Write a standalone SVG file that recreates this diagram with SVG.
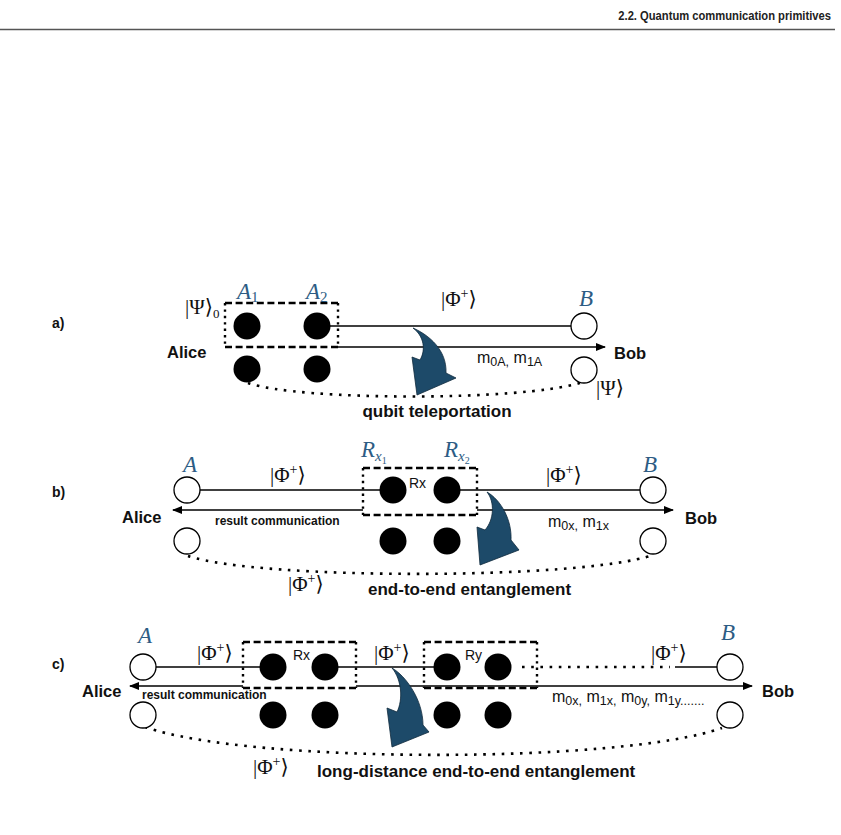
<svg xmlns="http://www.w3.org/2000/svg" width="841" height="835" viewBox="0 0 841 835">
<defs>
<style>
.hdr{font-family:"Liberation Sans",Arial,sans-serif;font-weight:bold;font-size:13.5px;fill:#222}
.b{font-family:"Liberation Sans",Arial,sans-serif;font-weight:bold;fill:#111}
.lab{font-size:14px}
.who{font-size:16.5px}
.cap{font-size:17px}
.rc{font-size:12px}
.r{font-family:"Liberation Sans",Arial,sans-serif;fill:#111}
.m{font-family:"Liberation Serif","DejaVu Serif",serif;font-size:21px;fill:#111}
.bl{font-family:"Liberation Serif","DejaVu Serif",serif;font-style:italic;font-size:23px;fill:#2d5c84}
.ln{stroke:#000;stroke-width:1.6;fill:none}
.dot{stroke:#000;stroke-width:2.6;fill:none;stroke-dasharray:2.6 6.6}
.dash{stroke:#000;stroke-width:2.4;fill:none;stroke-dasharray:7 3.6}
.vdot{stroke:#000;stroke-width:2.4;fill:none;stroke-dasharray:2.4 4}
.open{fill:#fff;stroke:#000;stroke-width:1.3}
.full{fill:#000}
.big{fill:#1d4a69;stroke:#0f2a3c;stroke-width:0.8}
</style>
<marker id="ah" viewBox="0 0 10 10" refX="9" refY="5" markerWidth="10" markerHeight="10" markerUnits="userSpaceOnUse" orient="auto">
<path d="M0,1 L10,5 L0,9 Z" fill="#000"/>
</marker>
</defs>
<rect width="841" height="835" fill="#fff"/>

<g id="header">
<text class="hdr" transform="translate(831,20) scale(0.83,1)" x="0" y="0" text-anchor="end">2.2. Quantum communication primitives</text>
<line x1="0" y1="29.5" x2="835" y2="29.5" stroke="#555" stroke-width="1.4"/>
</g>

<!-- ===== connectors ===== -->
<g id="connectors">
<!-- a -->
<line class="ln" x1="330" y1="326" x2="571" y2="326"/>
<line class="ln" x1="338" y1="347" x2="605" y2="347" marker-end="url(#ah)"/>
<path class="dot" d="M248,383 C300,401 520,401 580,383"/>
<!-- b -->
<line class="ln" x1="200" y1="490" x2="380" y2="490"/>
<line class="ln" x1="460" y1="490" x2="640" y2="490"/>
<line class="ln" x1="363" y1="510" x2="173" y2="510" marker-end="url(#ah)"/>
<line class="ln" x1="477" y1="510" x2="673" y2="510" marker-end="url(#ah)"/>
<path class="dot" d="M188,556 C260,580 580,580 653,555"/>
<!-- c -->
<line class="ln" x1="156" y1="667" x2="260" y2="667"/>
<line class="ln" x1="338" y1="667" x2="434" y2="667"/>
<path class="dot" d="M522,667 L670,667"/>
<line class="ln" x1="675" y1="667" x2="717" y2="667"/>
<line class="ln" x1="243" y1="686" x2="130" y2="686" marker-end="url(#ah)"/>
<line class="ln" x1="356" y1="686" x2="752" y2="686" marker-end="url(#ah)"/>
<path class="dot" d="M145,727 C250,764 620,764 722,728"/>
</g>

<!-- ===== panel a ===== -->
<g id="a-label"><text class="b lab" x="52" y="328">a)</text></g>
<g id="a-alice"><text class="b who" x="167" y="358">Alice</text></g>
<g id="a-box">
<path class="dash" d="M225,303 H338 M225,347 H338"/>
<path class="vdot" d="M225,303 V347 M338,303 V347"/>
</g>
<g id="a-psi0"><text class="m" x="185" y="314">|Ψ⟩<tspan font-size="13" dy="4">0</tspan></text></g>
<g id="a-A1"><circle class="full" cx="247" cy="326" r="13.5"/><text class="bl" x="237" y="299">A<tspan font-style="normal" font-size="15" dy="3">1</tspan></text></g>
<g id="a-A2"><circle class="full" cx="317" cy="326" r="13.5"/><text class="bl" x="306" y="299">A<tspan font-style="normal" font-size="15" dy="3">2</tspan></text></g>
<g id="a-A1b"><circle class="full" cx="247" cy="369" r="13.5"/></g>
<g id="a-A2b"><circle class="full" cx="317" cy="369" r="13.5"/></g>
<g id="a-phi"><text class="m" x="441" y="306">|Φ<tspan font-size="14" dy="-8">+</tspan><tspan dy="8">⟩</tspan></text></g>
<g id="a-B"><circle class="open" cx="584" cy="326" r="13"/><text class="bl" x="579" y="306">B</text></g>
<g id="a-Bb"><circle class="open" cx="584" cy="370" r="13"/></g>
<g id="a-psi"><text class="m" x="596" y="395">|Ψ⟩</text></g>
<g id="a-bob"><text class="b who" x="614" y="359">Bob</text></g>
<g id="a-m"><text class="r" x="477" y="363" font-size="16">m<tspan font-size="12.5" dy="3">0A,</tspan><tspan dy="-3"> m</tspan><tspan font-size="12.5" dy="3">1A</tspan></text></g>
<g id="a-arrow"><path class="big" d="M413,328 C429,335 447,350 446,373 L456,378 L417,395 L412,357 L420,360 C426,350 424,336 413,328 Z"/></g>
<g id="a-cap"><text class="b cap" x="437" y="417" text-anchor="middle">qubit teleportation</text></g>

<!-- ===== panel b ===== -->
<g id="b-label"><text class="b lab" x="52" y="497">b)</text></g>
<g id="b-alice"><text class="b who" x="122" y="523">Alice</text></g>
<g id="b-A"><circle class="open" cx="187" cy="490" r="13"/><text class="bl" x="183" y="472">A</text></g>
<g id="b-Ab"><circle class="open" cx="187" cy="541" r="13"/></g>
<g id="b-phi1"><text class="m" x="270" y="482">|Φ<tspan font-size="14" dy="-8">+</tspan><tspan dy="8">⟩</tspan></text></g>
<g id="b-rc"><text class="b rc" x="215" y="525">result communication</text></g>
<g id="b-box">
<path class="dash" d="M363,468 H477 M363,515 H477"/>
<path class="vdot" d="M363,468 V515 M477,468 V515"/>
</g>
<g id="b-Rx1"><circle class="full" cx="393" cy="490" r="13.5"/><text class="bl" x="361" y="457">R<tspan font-size="15" dy="4">x</tspan><tspan font-style="normal" font-size="10" dy="3">1</tspan></text></g>
<g id="b-Rx2"><circle class="full" cx="447" cy="490" r="13.5"/><text class="bl" x="444" y="457">R<tspan font-size="15" dy="4">x</tspan><tspan font-style="normal" font-size="10" dy="3">2</tspan></text></g>
<g id="b-Rx"><text class="r" x="409" y="488" font-size="14">Rx</text></g>
<g id="b-Rx1b"><circle class="full" cx="393" cy="541" r="13.5"/></g>
<g id="b-Rx2b"><circle class="full" cx="447" cy="541" r="13.5"/></g>
<g id="b-phi2"><text class="m" x="546" y="482">|Φ<tspan font-size="14" dy="-8">+</tspan><tspan dy="8">⟩</tspan></text></g>
<g id="b-B"><circle class="open" cx="653" cy="490" r="13"/><text class="bl" x="643" y="472">B</text></g>
<g id="b-Bb"><circle class="open" cx="653" cy="541" r="13"/></g>
<g id="b-bob"><text class="b who" x="685" y="524">Bob</text></g>
<g id="b-m"><text class="r" x="548" y="527" font-size="16">m<tspan font-size="12.5" dy="3">0x,</tspan><tspan dy="-3"> m</tspan><tspan font-size="12.5" dy="3">1x</tspan></text></g>
<g id="b-arrow"><path class="big" d="M487,492 C501,500 512,520 511,540 L519,550 L480,565 L477,527 L485,530 C494,520 495,502 487,492 Z"/></g>
<g id="b-phi3"><text class="m" x="288" y="591">|Φ<tspan font-size="14" dy="-8">+</tspan><tspan dy="8">⟩</tspan></text></g>
<g id="b-cap"><text class="b cap" x="368" y="595">end-to-end entanglement</text></g>

<!-- ===== panel c ===== -->
<g id="c-label"><text class="b lab" x="52" y="669">c)</text></g>
<g id="c-alice"><text class="b who" x="82" y="697">Alice</text></g>
<g id="c-A"><circle class="open" cx="143" cy="667" r="13"/><text class="bl" x="138" y="643">A</text></g>
<g id="c-Ab"><circle class="open" cx="143" cy="715" r="13"/></g>
<g id="c-phi1"><text class="m" x="197" y="660">|Φ<tspan font-size="14" dy="-8">+</tspan><tspan dy="8">⟩</tspan></text></g>
<g id="c-rc"><text class="b rc" x="142" y="699">result communication</text></g>
<g id="c-boxx">
<path class="dash" d="M243,642 H356 M243,688 H356"/>
<path class="vdot" d="M243,642 V688 M356,642 V688"/>
</g>
<g id="c-x1"><circle class="full" cx="273" cy="667" r="13.5"/></g>
<g id="c-x2"><circle class="full" cx="325" cy="667" r="13.5"/></g>
<g id="c-Rx"><text class="r" x="293" y="660" font-size="14">Rx</text></g>
<g id="c-x1b"><circle class="full" cx="273" cy="715" r="13.5"/></g>
<g id="c-x2b"><circle class="full" cx="325" cy="715" r="13.5"/></g>
<g id="c-phi2"><text class="m" x="374" y="660">|Φ<tspan font-size="14" dy="-8">+</tspan><tspan dy="8">⟩</tspan></text></g>
<g id="c-boxy">
<path class="dash" d="M424,642 H537 M424,688 H537"/>
<path class="vdot" d="M424,642 V688 M537,642 V688"/>
</g>
<g id="c-y1"><circle class="full" cx="447" cy="667" r="13.5"/></g>
<g id="c-y2"><circle class="full" cx="498" cy="667" r="13.5"/></g>
<g id="c-Ry"><text class="r" x="465" y="660" font-size="14">Ry</text></g>
<g id="c-y1b"><circle class="full" cx="447" cy="715" r="13.5"/></g>
<g id="c-y2b"><circle class="full" cx="498" cy="715" r="13.5"/></g>
<g id="c-phi3"><text class="m" x="651" y="660">|Φ<tspan font-size="14" dy="-8">+</tspan><tspan dy="8">⟩</tspan></text></g>
<g id="c-B"><circle class="open" cx="730" cy="667" r="13"/><text class="bl" x="721" y="640">B</text></g>
<g id="c-Bb"><circle class="open" cx="730" cy="715" r="13"/></g>
<g id="c-bob"><text class="b who" x="762" y="697">Bob</text></g>
<g id="c-m"><text class="r" x="552" y="702" font-size="16">m<tspan font-size="12.5" dy="3">0x,</tspan><tspan dy="-3"> m</tspan><tspan font-size="12.5" dy="3">1x,</tspan><tspan dy="-3"> m</tspan><tspan font-size="12.5" dy="3">0y,</tspan><tspan dy="-3"> m</tspan><tspan font-size="12.5" dy="3">1y.......</tspan></text></g>
<g id="c-arrow"><path class="big" d="M392,668 C406,676 423,700 423,725 L429,732 L392,747 L387,708 L397,712 C403,700 402,680 392,668 Z"/></g>
<g id="c-phi4"><text class="m" x="253" y="774">|Φ<tspan font-size="14" dy="-8">+</tspan><tspan dy="8">⟩</tspan></text></g>
<g id="c-cap"><text class="b cap" x="317" y="777">long-distance end-to-end entanglement</text></g>
</svg>
